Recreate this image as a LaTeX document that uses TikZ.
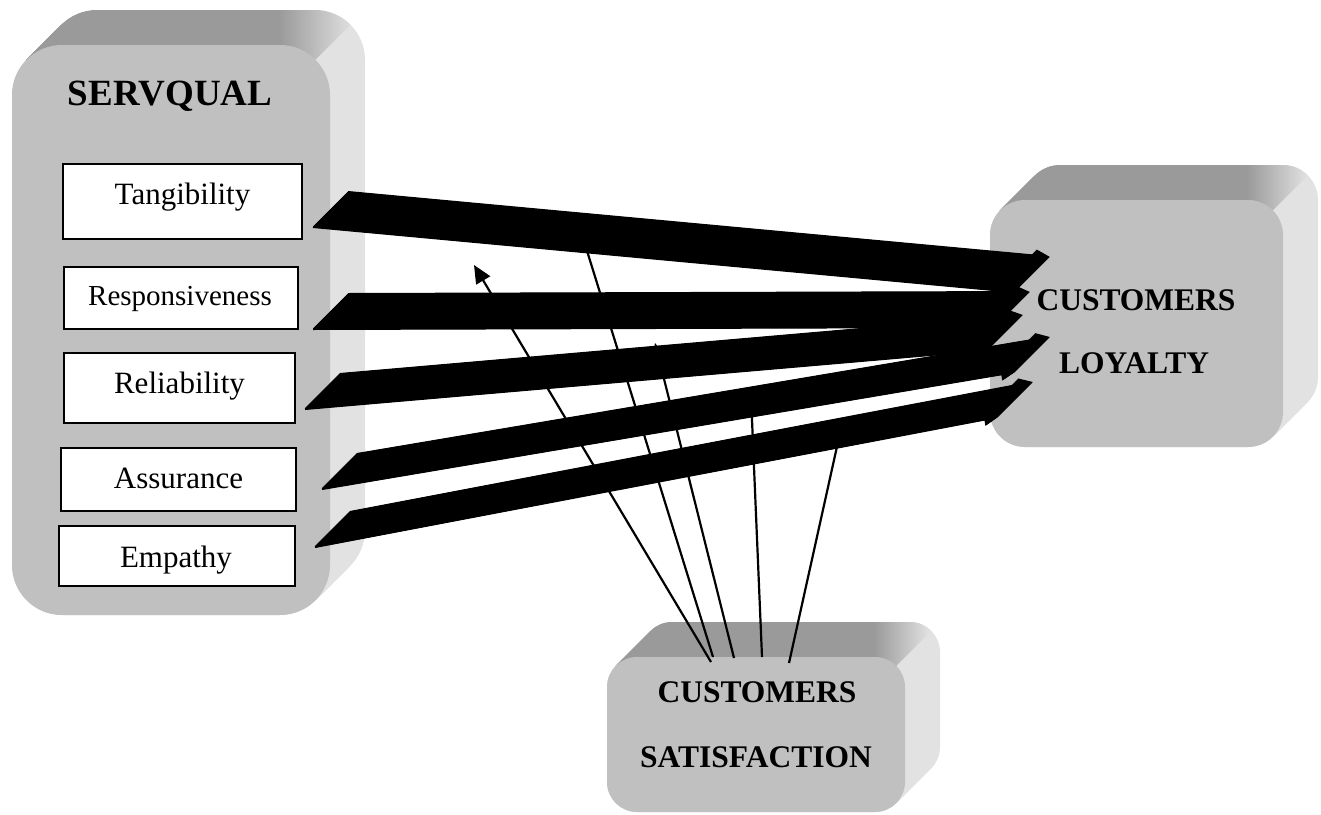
\documentclass[tikz,border=0pt]{standalone}
\usepackage{fontspec}
\setmainfont{Liberation Serif}
\usetikzlibrary{arrows.meta}
\definecolor{facegray}{HTML}{C0C0C0}
\definecolor{topgray}{HTML}{9A9A9A}
\definecolor{sidegray}{HTML}{E2E2E2}
\newcommand\tdbox[5]{%
  \foreach \k in {0,0.5,...,35}{\fill[sidegray,rounded corners=#5] (#1+\k,#2-\k) rectangle (#3+\k,#4-\k);}
  \begin{scope}
    \clip (#1-60,#2+0.293*#5) -- (#3-#5,#2+0.293*#5) -- (#3-#5,#2+0.293*#5-120) -- (#1-60,#2+0.293*#5-120) -- cycle;
    \foreach \k in {0,0.5,...,35}{\fill[topgray,rounded corners=#5] (#1+\k,#2-\k) rectangle (#3+\k,#4-\k);}
  \end{scope}
  \begin{scope}
    \clip (#3-#5-1,#2+0.293*#5) -- (#3-0.293*#5,#2+0.293*#5) -- (#3-0.293*#5+120,#2+0.293*#5-120) -- (#3-#5-1,#2+0.293*#5-120) -- cycle;
    \clip[rounded corners=#5] (#1+35,#2-35) rectangle (#3+35,#4-35);
    \shade[left color=topgray,right color=sidegray] (#3-#5-1,#2-40) rectangle (#3+25,#2+0.293*#5);
  \end{scope}
  \fill[facegray,rounded corners=#5] (#1,#2) rectangle (#3,#4);
}
\tikzset{
  dimbox/.style={draw=black,fill=white,line width=1.2pt,inner sep=0pt},
  dimtext/.style={anchor=base,inner sep=0pt,font=\fontsize{31}{31}\selectfont},
  titletext/.style={anchor=base,inner sep=0pt,font=\fontsize{31.5}{31.5}\selectfont\bfseries},
  bigarrow/.style={line width=2pt,-{Triangle[length=14pt,width=12pt]}},
  thinarrow/.style={line width=2.2pt,-{Triangle[length=18pt,width=16pt]}}
}
\begin{document}
\begin{tikzpicture}[x=1pt,y=-1pt]
\useasboundingbox (0,0) rectangle (1321,814);
% 3D boxes
\tdbox{12}{45}{330}{615}{50}
\tdbox{990}{200}{1283}{447}{35}
\tdbox{607}{657}{905}{812}{30}
% SERVQUAL
\node[anchor=base,inner sep=0pt,font=\fontsize{37}{37}\selectfont\bfseries] (servqual) at (170,105) {SERVQUAL};
\node[dimbox,minimum width=239pt,minimum height=75pt] (tang) at (182.5,201.5) {};
\node[dimtext] (tangtxt) at (182.5,204) {Tangibility};
\node[dimbox,minimum width=234pt,minimum height=62pt] (resp) at (181,298) {};
\node[dimtext,font=\fontsize{29}{29}\selectfont] (resptxt) at (180,305) {Responsiveness};
\node[dimbox,minimum width=231pt,minimum height=70pt] (reli) at (179.5,388) {};
\node[dimtext] (relitxt) at (179.5,393) {Reliability};
\node[dimbox,minimum width=235pt,minimum height=63pt] (assu) at (178.5,479.5) {};
\node[dimtext] (assutxt) at (178.5,488) {Assurance};
\node[dimbox,minimum width=236pt,minimum height=60pt] (empa) at (177,556) {};
\node[dimtext] (empatxt) at (176,567) {Empathy};
% Loyalty
\node[titletext] (loy1) at (1136,310) {CUSTOMERS};
\node[titletext] (loy2) at (1134,373) {LOYALTY};
% Satisfaction
\node[titletext] (sat1) at (757,702) {CUSTOMERS};
\node[titletext] (sat2) at (756,767) {SATISFACTION};
% thin moderating lines
\coordinate (s1) at (711,662);
\coordinate (s2) at (713,657);
\coordinate (s3) at (734,658);
\coordinate (s4) at (762,657);
\coordinate (s5) at (789,663);
\coordinate (e1) at (474,265);
\coordinate (e2) at (579,225);
\coordinate (e3) at (655,343);
\coordinate (e4) at (751,396);
\coordinate (e5) at (842,424);
\draw[thinarrow] (s1) -- (e1);
\draw[thinarrow] (s2) -- (e2);
\draw[thinarrow] (s3) -- (e3);
\draw[thinarrow] (s4) -- (e4);
\draw[thinarrow] (s5) -- (e5);
% thick 3D arrows
\coordinate (tT) at (313,227);
\coordinate (tH) at (1015,292);
\coordinate (rT) at (313,329);
\coordinate (rH) at (995,327);
\coordinate (lT) at (305,409);
\coordinate (lH) at (988,350);
\coordinate (aT) at (322,489);
\coordinate (aH) at (1015,372);
\coordinate (eT) at (315,547);
\coordinate (eH) at (998,417);
\foreach \a/\b in {tT/tH,rT/rH,lT/lH,aT/aH,eT/eH}{
  \foreach \k in {0,0.5,...,35}{
    \draw[bigarrow] ([shift={(\k,-\k)}]\a) -- ([shift={(\k,-\k)}]\b);
  }
}
\end{tikzpicture}
\end{document}
